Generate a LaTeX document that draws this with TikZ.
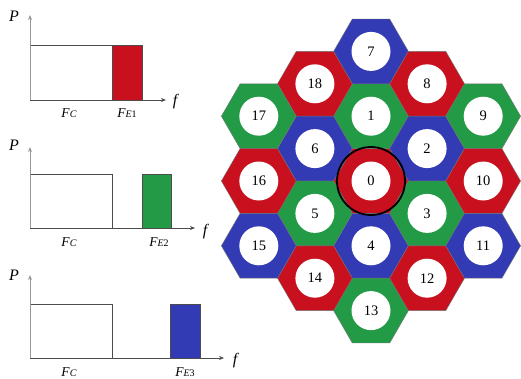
\documentclass[tikz,border=0pt]{standalone}
\usepackage{fontspec}
\setmainfont{Liberation Serif}
\usetikzlibrary{arrows.meta}
\definecolor{hred}{RGB}{200,16,30}
\definecolor{hgreen}{RGB}{35,155,70}
\definecolor{hblue}{RGB}{50,58,180}
\begin{document}
\begin{tikzpicture}[x=1pt,y=-1pt,
  hexcell/.style={draw=black!55,line width=0.4pt},
  numc/.style={circle,fill=white,inner sep=0pt,minimum size=39pt,font=\fontsize{14.5}{14.5}\selectfont},
  vaxis/.style={draw=black!40,line width=1pt,-{Stealth[length=5pt,width=4pt]}},
  haxis/.style={draw=black!70,line width=0.7pt,-{Stealth[length=5pt,width=4pt]}},
  band/.style={draw=black!70,line width=0.5pt},
  axlab/.style={inner sep=0pt,font=\fontsize{16}{16}\selectfont\itshape},
  flab/.style={inner sep=0pt,font=\fontsize{13.5}{13.5}\selectfont}
]
\useasboundingbox (0,0) rectangle (521,378);
% ---- hexagonal cells ----
\foreach \k/\m/\n/\c in {0/0/0/hred,0/-2/1/hgreen,0/-4/7/hblue,0/2/4/hblue,0/4/13/hgreen,
  -1/-3/18/hred,-1/-1/6/hblue,-1/1/5/hgreen,-1/3/14/hred,
  1/-3/8/hred,1/-1/2/hblue,1/1/3/hgreen,1/3/12/hred,
  -2/-2/17/hgreen,-2/0/16/hred,-2/2/15/hblue,
  2/-2/9/hgreen,2/0/10/hred,2/2/11/hblue}{
  \path[hexcell,fill=\c] (371+\k*56.1,181+\m*32.4) +(0:37.4) -- +(60:37.4) -- +(120:37.4)
     -- +(180:37.4) -- +(240:37.4) -- +(300:37.4) -- cycle;
  \node[numc] (c\n) at (371+\k*56.1,181+\m*32.4) {\n};
}
\draw[line width=1.8pt] (c0.center) circle (34pt);
% ---- plot 1 ----
\coordinate (o1) at (30,100);
\coordinate (t1) at (30,15);
\coordinate (r1) at (166,100);
\draw[band,fill=white] (30,45) rectangle (112,100);
\draw[band,fill=hred] (112,45) rectangle (142,100);
\draw[vaxis] (o1) -- (t1);
\draw[haxis] (o1) -- (r1);
\node[axlab] (p1) at (14,16) {P};
\node[axlab] (f1) at (175,102) {f};
\node[flab] (fc1) at (69,113) {\textit{F}\textit{\fontsize{10}{10}\selectfont C}};
\node[flab] (fe1) at (127,113) {\textit{F}{\fontsize{10}{10}\selectfont\textit{E}1}};
% ---- plot 2 ----
\coordinate (o2) at (30,228);
\coordinate (t2) at (30,147);
\coordinate (r2) at (195,228);
\draw[band,fill=white] (30,174) rectangle (112,228);
\draw[band,fill=hgreen] (142,174) rectangle (171,228);
\draw[vaxis] (o2) -- (t2);
\draw[haxis] (o2) -- (r2);
\node[axlab] (p2) at (14,145) {P};
\node[axlab] (f2) at (205,232) {f};
\node[flab] (fc2) at (69,242) {\textit{F}\textit{\fontsize{10}{10}\selectfont C}};
\node[flab] (fe2) at (159,242) {\textit{F}{\fontsize{10}{10}\selectfont\textit{E}2}};
% ---- plot 3 ----
\coordinate (o3) at (30,358);
\coordinate (t3) at (30,275);
\coordinate (r3) at (224,358);
\draw[band,fill=white] (30,304) rectangle (112,358);
\draw[band,fill=hblue] (170,304) rectangle (200,358);
\draw[vaxis] (o3) -- (t3);
\draw[haxis] (o3) -- (r3);
\node[axlab] (p3) at (14,275) {P};
\node[axlab] (f3) at (235,361) {f};
\node[flab] (fc3) at (69,372) {\textit{F}\textit{\fontsize{10}{10}\selectfont C}};
\node[flab] (fe3) at (185,372) {\textit{F}{\fontsize{10}{10}\selectfont\textit{E}3}};
\end{tikzpicture}
\end{document}
